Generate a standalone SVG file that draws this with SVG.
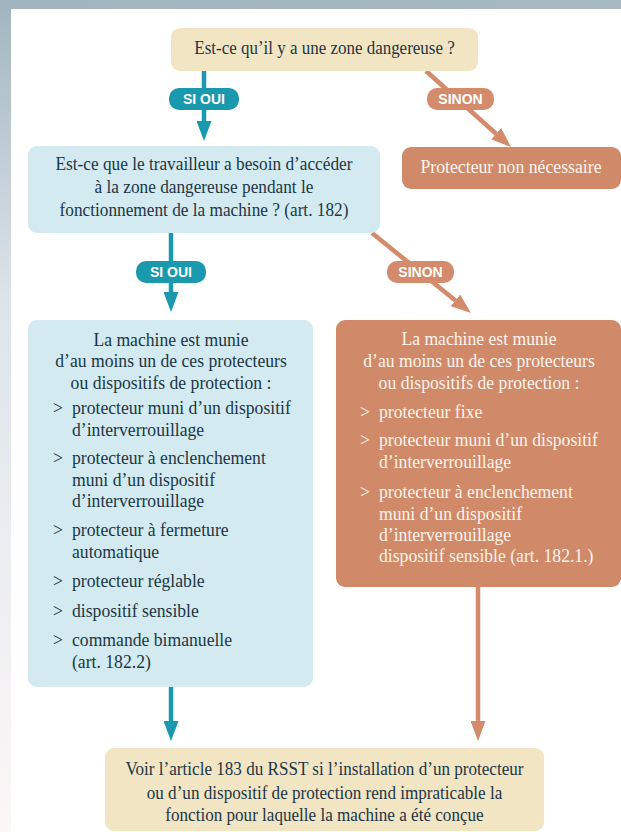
<svg xmlns="http://www.w3.org/2000/svg" width="621" height="832" viewBox="0 0 621 832">
<defs>
<linearGradient id="gTop" x1="0" y1="0" x2="1" y2="0"><stop offset="0" stop-color="#a2b4bf"/><stop offset="1" stop-color="#a7b8c2"/></linearGradient>
<linearGradient id="gLeft" x1="0" y1="0" x2="0" y2="1"><stop offset="0" stop-color="#a4b6c0"/><stop offset="0.35" stop-color="#dde4e9"/><stop offset="1" stop-color="#fcf7f7"/></linearGradient>
<marker id="aT" markerUnits="userSpaceOnUse" markerWidth="20" markerHeight="15" refX="0" refY="7.5" orient="auto"><path d="M0,0 L20,7.5 L0,15 z" fill="#1a98ae"/></marker>
<marker id="aO" markerUnits="userSpaceOnUse" markerWidth="20" markerHeight="15" refX="0" refY="7.5" orient="auto"><path d="M0,0 L20,7.5 L0,15 z" fill="#d38b6b"/></marker>
<style>
.t{font-family:"Liberation Serif","Times New Roman",serif;font-size:19.5px;fill:#1d3646}
.w{fill:#fdf4ec}
.c{text-anchor:middle}
.b{font-family:"Liberation Sans",Arial,sans-serif;font-weight:bold;font-size:14px;fill:#ffffff;text-anchor:middle}
.lt{stroke:#1a98ae;stroke-width:4.5;fill:none}
.lo{stroke:#d38b6b;stroke-width:4.5;fill:none}
.beige{fill:#f2e5c4}
.blue{fill:#d2eaf0}
.orange{fill:#d08a6a}
</style>
</defs>
<rect x="0" y="0" width="621" height="832" fill="#ffffff"/>
<rect x="0" y="0" width="621" height="9" fill="url(#gTop)"/>
<rect x="0" y="9" width="11" height="823" fill="url(#gLeft)"/>

<g id="connectors">
<line class="lt" x1="204" y1="71" x2="204" y2="121" marker-end="url(#aT)"/>
<line class="lo" x1="426" y1="71" x2="496.1" y2="133.7" marker-end="url(#aO)"/>
<line class="lt" x1="171" y1="233" x2="171" y2="292" marker-end="url(#aT)"/>
<line class="lo" x1="372" y1="233" x2="455.4" y2="300.4" marker-end="url(#aO)"/>
<line class="lt" x1="171" y1="687" x2="171" y2="721" marker-end="url(#aT)"/>
<line class="lo" x1="478" y1="587" x2="478" y2="721" marker-end="url(#aO)"/>
<g id="badge1"><rect x="169" y="88" width="70" height="22" rx="10" fill="#1a98ae"/><text class="b" x="204" y="104">SI OUI</text></g>
<g id="badge2"><rect x="427" y="88" width="67" height="22" rx="10" fill="#d38b6b"/><text class="b" x="460.5" y="104">SINON</text></g>
<g id="badge3"><rect x="136" y="261" width="70" height="22" rx="10" fill="#1a98ae"/><text class="b" x="171" y="277">SI OUI</text></g>
<g id="badge4"><rect x="387" y="261" width="67" height="22" rx="10" fill="#d38b6b"/><text class="b" x="420.5" y="277">SINON</text></g>
</g>

<g id="q1">
<rect class="beige" x="171" y="28" width="307" height="43" rx="9"/>
<g transform="matrix(0.87 0 0 1 42.2 0)"><text class="t c" x="324.5" y="54">Est-ce qu’il y a une zone dangereuse ?</text></g>
</g>

<g id="nonnecessaire">
<rect class="orange" x="402" y="147" width="219" height="42" rx="9"/>
<g transform="matrix(0.91 0 0 1 46 0)"><text class="t w c" x="511" y="173">Protecteur non nécessaire</text></g>
</g>

<g id="q2">
<rect class="blue" x="28" y="146" width="352" height="87" rx="9"/>
<g transform="matrix(0.885 0 0 1 23.46 0)">
<text class="t c" x="204" y="170">Est-ce que le travailleur a besoin d’accéder</text>
<text class="t c" x="204" y="193">à la zone dangereuse pendant le</text>
<text class="t c" x="204" y="216">fonctionnement de la machine ? (art. 182)</text>
</g>
</g>

<g id="oui">
<rect class="blue" x="28" y="320" width="285" height="367" rx="9"/>
<g transform="matrix(0.905 0 0 1 16.245 0)">
<text class="t c" x="171" y="346">La machine est munie</text>
<text class="t c" x="171" y="367">d’au moins un de ces protecteurs</text>
<text class="t c" x="171" y="389">ou dispositifs de protection :</text>
</g>
<g transform="matrix(0.905 0 0 1 5.035 0)">
<text class="t" x="53" y="414">&gt;</text><text class="t" x="74" y="414">protecteur muni d’un dispositif</text>
<text class="t" x="74" y="436">d’interverrouillage</text>
<text class="t" x="53" y="464">&gt;</text><text class="t" x="74" y="464">protecteur à enclenchement</text>
<text class="t" x="74" y="486">muni d’un dispositif</text>
<text class="t" x="74" y="507">d’interverrouillage</text>
<text class="t" x="53" y="536">&gt;</text><text class="t" x="74" y="536">protecteur à fermeture</text>
<text class="t" x="74" y="558">automatique</text>
<text class="t" x="53" y="587">&gt;</text><text class="t" x="74" y="587">protecteur réglable</text>
<text class="t" x="53" y="617">&gt;</text><text class="t" x="74" y="617">dispositif sensible</text>
<text class="t" x="53" y="646">&gt;</text><text class="t" x="74" y="646">commande bimanuelle</text>
<text class="t" x="74" y="668">(art. 182.2)</text>
</g>
</g>

<g id="sinon">
<rect class="orange" x="336" y="320" width="285" height="267" rx="9"/>
<g transform="matrix(0.905 0 0 1 45.5 0)">
<text class="t w c" x="479" y="345">La machine est munie</text>
<text class="t w c" x="479" y="367">d’au moins un de ces protecteurs</text>
<text class="t w c" x="479" y="389">ou dispositifs de protection :</text>
</g>
<g transform="matrix(0.905 0 0 1 34.2 0)">
<text class="t w" x="360" y="418">&gt;</text><text class="t w" x="381" y="418">protecteur fixe</text>
<text class="t w" x="360" y="446">&gt;</text><text class="t w" x="381" y="446">protecteur muni d’un dispositif</text>
<text class="t w" x="381" y="468">d’interverrouillage</text>
<text class="t w" x="360" y="498">&gt;</text><text class="t w" x="381" y="498">protecteur à enclenchement</text>
<text class="t w" x="381" y="520">muni d’un dispositif</text>
<text class="t w" x="381" y="541">d’interverrouillage</text>
<text class="t w" x="381" y="562">dispositif sensible (art. 182.1.)</text>
</g>
</g>

<g id="article183">
<rect class="beige" x="105" y="748" width="439" height="83" rx="9"/>
<g transform="matrix(0.877 0 0 1 39.9 0)">
<text class="t c" x="324.5" y="775">Voir l’article 183 du RSST si l’installation d’un protecteur</text>
<text class="t c" x="324.5" y="799">ou d’un dispositif de protection rend impraticable la</text>
<text class="t c" x="324.5" y="821">fonction pour laquelle la machine a été conçue</text>
</g>
</g>
</svg>
